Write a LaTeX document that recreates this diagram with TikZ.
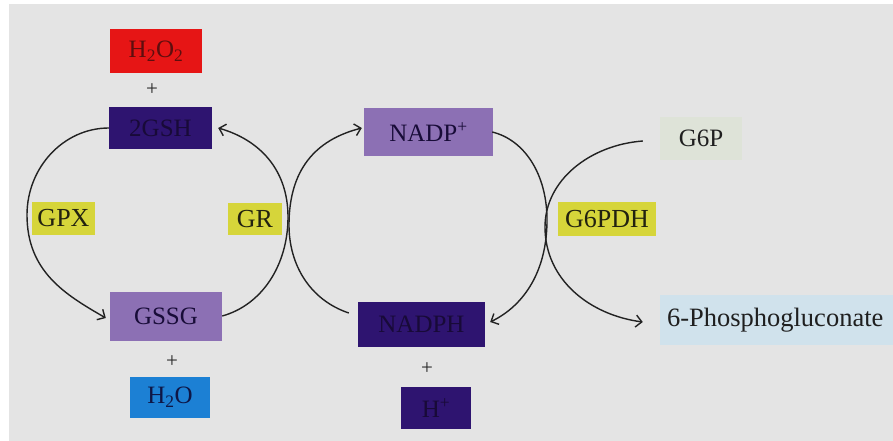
\documentclass[tikz,border=0pt]{standalone}
\usepackage{fontspec}
\setmainfont{Liberation Serif}
\usetikzlibrary{arrows.meta,calc}
\definecolor{bgc}{HTML}{E4E4E4}
\definecolor{redbox}{HTML}{E61515}
\definecolor{redtxt}{HTML}{5E0E0E}
\definecolor{darkbox}{HTML}{2E1470}
\definecolor{darktxt}{HTML}{180A38}
\definecolor{midbox}{HTML}{8C70B4}
\definecolor{midtxt}{HTML}{180C38}
\definecolor{bluebox}{HTML}{1C80D4}
\definecolor{bluetxt}{HTML}{0E1646}
\definecolor{yelbox}{HTML}{D6D53A}
\definecolor{yeltxt}{HTML}{222210}
\definecolor{g6pbox}{HTML}{DEE3D8}
\definecolor{pgbox}{HTML}{D0E2EC}
\definecolor{linec}{HTML}{222222}
\begin{document}
\begin{tikzpicture}[x=1pt,y=1pt,
  box/.style={inner sep=0pt, font=\fontsize{25}{28}\selectfont},
  plus/.style={inner sep=0pt, font=\fontsize{21}{22}\selectfont, text=black!85},
  enzyme/.style={box, fill=yelbox, text=yeltxt, font=\fontsize{26}{28}\selectfont},
  conn/.style={draw=linec, line width=1.4pt},
  arr/.style={-{Straight Barb[length=6pt,width=12pt]}}
]
\fill[white] (0,0) rectangle (893,-441);
\fill[bgc] (9,-4) rectangle (893,-441);
\useasboundingbox (0,0) rectangle (893,-441);

% left cycle
\node[box, fill=redbox, text=redtxt, minimum width=92pt, minimum height=44pt] (h2o2) at (156,-51) {H\textsubscript{2}O\textsubscript{2}};
\node[plus] (plus1) at (152,-90) {+};
\node[box, fill=darkbox, text=darktxt, minimum width=103pt, minimum height=42pt] (gsh) at (160.5,-128) {2GSH};
\node[enzyme, minimum width=63pt, minimum height=33pt] (gpx) at (63.5,-218.5) {GPX};
\node[enzyme, minimum width=54pt, minimum height=32pt] (gr) at (255,-219) {GR};
\node[box, fill=midbox, text=midtxt, minimum width=112pt, minimum height=49pt] (gssg) at (166,-316.5) {GSSG};
\node[plus] (plus2) at (172,-362) {+};
\node[box, fill=bluebox, text=bluetxt, minimum width=80pt, minimum height=41pt] (h2o) at (170,-397.5) {H\textsubscript{2}O};

% middle cycle
\node[box, fill=midbox, text=midtxt, minimum width=129pt, minimum height=48pt] (nadp) at (428.5,-132) {NADP\textsuperscript{+}};
\node[box, fill=darkbox, text=darktxt, minimum width=127pt, minimum height=45pt] (nadph) at (421.5,-324.5) {NADPH};
\node[plus] (plus3) at (427,-369) {+};
\node[box, fill=darkbox, text=darktxt, minimum width=70pt, minimum height=42pt] (hplus) at (436,-408) {H\textsuperscript{+}};

% right
\node[box, fill=g6pbox, text=black!88, minimum width=82pt, minimum height=43pt] (g6p) at (701,-138.5) {G6P};
\node[enzyme, minimum width=98pt, minimum height=34pt] (g6pdh) at (607,-219) {G6PDH};
\node[box, fill=pgbox, text=black!88, minimum width=233pt, minimum height=50pt, text width=219pt, align=left, inner xsep=7pt, font=\fontsize{26.5}{28}\selectfont] (pg) at (776.5,-320) {6-Phosphogluconate};

% connectors
\draw[conn, arr] (gsh.west) .. controls (64,-128) and (27,-167) .. (27,-215)
   .. controls (27,-272) and (66,-295) .. ([xshift=-4pt,yshift=-1.5pt]gssg.west);
\draw[conn, arr] ([yshift=0.5pt]gssg.east) .. controls (262,-305) and (288,-265) .. (288,-217)
   .. controls (288,-170) and (260,-140) .. ([xshift=6pt]gsh.east);
\draw[conn, arr] ([xshift=-9pt,yshift=11.5pt]nadph.west) .. controls (310,-300) and (289,-265) .. (289,-225)
   .. controls (289,-170) and (315,-140) .. ([xshift=-2pt,yshift=4pt]nadp.west);
\draw[conn, arr] ([xshift=-1pt]nadp.east) .. controls (525,-140) and (547,-175) .. (547,-220)
   .. controls (547,-270) and (525,-305) .. ([xshift=5pt,yshift=2.5pt]nadph.east);
\draw[conn, arr] ([xshift=-17pt,yshift=-2.5pt]g6p.west) .. controls (590,-145) and (545,-180) .. (545,-227)
   .. controls (545,-280) and (590,-315) .. ([xshift=-17pt,yshift=-2pt]pg.west);
\end{tikzpicture}
\end{document}
